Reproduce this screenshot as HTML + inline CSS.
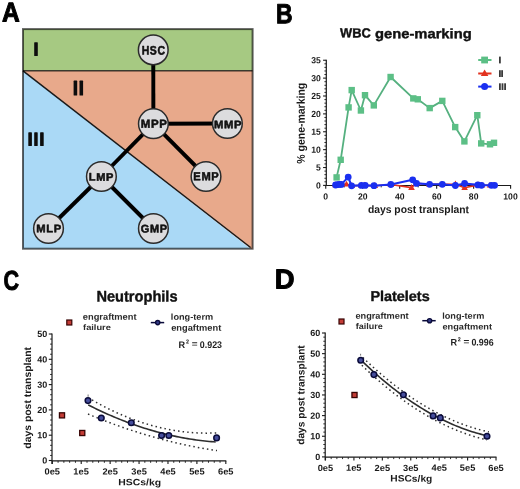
<!DOCTYPE html>
<html><head><meta charset="utf-8"><style>
html,body{margin:0;padding:0;background:#fff;}
svg{display:block;font-family:"Liberation Sans", sans-serif;font-kerning:none;filter:blur(0.4px);}
</style></head><body>
<svg width="520" height="489" viewBox="0 0 520 489" text-rendering="geometricPrecision">
<rect width="520" height="489" fill="#fff"/>
<rect x="23" y="29.1" width="229.6" height="41.550000000000004" fill="#a6c982"/>
<polygon points="23,70.65 252.6,70.65 252.6,248.7 250.6,248.7" fill="#e8a98b"/>
<polygon points="23,70.65 250.6,248.7 23,248.7" fill="#aad9f6"/>
<line x1="23" y1="70.95" x2="250.6" y2="247.5" stroke="#1a1a1a" stroke-width="1.5"/>
<line x1="23" y1="70.65" x2="252.6" y2="70.65" stroke="#000" stroke-opacity="0.72" stroke-width="1.5"/>
<rect x="23" y="29.1" width="229.60" height="219.60" fill="none" stroke="#000" stroke-opacity="0.62" stroke-width="2"/>
<line x1="153.25" y1="49.9" x2="153.4" y2="123.7" stroke="#000" stroke-width="3.9"/>
<line x1="153.4" y1="123.7" x2="227.4" y2="123.5" stroke="#000" stroke-width="3.9"/>
<line x1="153.4" y1="123.7" x2="101.4" y2="176.5" stroke="#000" stroke-width="3.9"/>
<line x1="153.4" y1="123.7" x2="206" y2="176.5" stroke="#000" stroke-width="3.9"/>
<line x1="101.4" y1="176.5" x2="48.5" y2="228.5" stroke="#000" stroke-width="3.9"/>
<line x1="101.4" y1="176.5" x2="153.4" y2="228.5" stroke="#000" stroke-width="3.9"/>
<circle cx="153.25" cy="49.9" r="14.85" fill="#dcdcde" stroke="#2b2b2b" stroke-width="1.5"/>
<text transform="translate(141.67,54.41) rotate(0.05) scale(0.8582,1)" font-size="12.217" font-weight="bold" fill="#111"  stroke="#111" stroke-width="0.55" stroke-linejoin="round" letter-spacing="0.7">HSC</text>
<circle cx="153.4" cy="123.7" r="14.85" fill="#dcdcde" stroke="#2b2b2b" stroke-width="1.5"/>
<text transform="translate(140.71,127.82) rotate(0.05) scale(0.9835,1)" font-size="11.701" font-weight="bold" fill="#111"  stroke="#111" stroke-width="0.55" stroke-linejoin="round" letter-spacing="0.7">MPP</text>
<circle cx="227.4" cy="123.5" r="14.85" fill="#dcdcde" stroke="#2b2b2b" stroke-width="1.5"/>
<text transform="translate(213.92,128.22) rotate(0.05) scale(1.0254,1)" font-size="10.974" font-weight="bold" fill="#111"  stroke="#111" stroke-width="0.55" stroke-linejoin="round" letter-spacing="0.7">MMP</text>
<circle cx="101.4" cy="176.5" r="14.85" fill="#dcdcde" stroke="#2b2b2b" stroke-width="1.5"/>
<text transform="translate(88.74,180.62) rotate(0.05) scale(1.0040,1)" font-size="10.974" font-weight="bold" fill="#111"  stroke="#111" stroke-width="0.55" stroke-linejoin="round" letter-spacing="0.7">LMP</text>
<circle cx="206" cy="176.5" r="14.85" fill="#dcdcde" stroke="#2b2b2b" stroke-width="1.5"/>
<text transform="translate(193.33,180.22) rotate(0.05) scale(0.9635,1)" font-size="11.555" font-weight="bold" fill="#111"  stroke="#111" stroke-width="0.55" stroke-linejoin="round" letter-spacing="0.7">EMP</text>
<circle cx="48.5" cy="228.5" r="14.85" fill="#dcdcde" stroke="#2b2b2b" stroke-width="1.5"/>
<text transform="translate(36.13,232.22) rotate(0.05) scale(1.0211,1)" font-size="10.974" font-weight="bold" fill="#111"  stroke="#111" stroke-width="0.55" stroke-linejoin="round" letter-spacing="0.7">MLP</text>
<circle cx="153.4" cy="228.5" r="14.85" fill="#dcdcde" stroke="#2b2b2b" stroke-width="1.5"/>
<text transform="translate(140.82,232.52) rotate(0.05) scale(0.9777,1)" font-size="11.229" font-weight="bold" fill="#111"  stroke="#111" stroke-width="0.55" stroke-linejoin="round" letter-spacing="0.7">GMP</text>
<rect x="34.2" y="42.2" width="3.60" height="13.80" rx="0.6" fill="#0d0d0d"/>
<rect x="73.6" y="80.6" width="3.60" height="15.00" rx="0.6" fill="#0d0d0d"/>
<rect x="79.5" y="80.6" width="3.60" height="15.00" rx="0.6" fill="#0d0d0d"/>
<rect x="28.3" y="132.3" width="3.60" height="13.80" rx="0.6" fill="#0d0d0d"/>
<rect x="34.2" y="132.3" width="3.50" height="13.80" rx="0.6" fill="#0d0d0d"/>
<rect x="40.1" y="132.3" width="3.60" height="13.80" rx="0.6" fill="#0d0d0d"/>
<text transform="translate(1.89,21.50) rotate(0.05) scale(0.9048,1)" font-size="27.181" font-weight="bold" fill="#000"  stroke="#000" stroke-width="1.0" stroke-linejoin="round">A</text>
<text transform="translate(275.96,23.30) rotate(0.05) scale(0.8312,1)" font-size="27.617" font-weight="bold" fill="#000"  stroke="#000" stroke-width="1.0" stroke-linejoin="round">B</text>
<text transform="translate(3.62,289.73) rotate(0.05) scale(0.7911,1)" font-size="27.260" font-weight="bold" fill="#000"  stroke="#000" stroke-width="1.0" stroke-linejoin="round">C</text>
<text transform="translate(274.77,288.50) rotate(0.05) scale(0.9972,1)" font-size="27.471" font-weight="bold" fill="#000"  stroke="#000" stroke-width="1.0" stroke-linejoin="round">D</text>
<line x1="326.3" y1="59.74" x2="326.3" y2="186.1" stroke="#1a1a1a" stroke-width="1.2"/>
<line x1="323.10" y1="185.40" x2="326.3" y2="185.40" stroke="#1a1a1a" stroke-width="1.1"/>
<text transform="translate(316.05,188.46) rotate(0.05) scale(0.9700,1)" font-size="8.900" font-weight="bold" fill="#1a1a1a" >0</text>
<line x1="324.40" y1="181.82" x2="326.3" y2="181.82" stroke="#1a1a1a" stroke-width="0.9"/>
<line x1="324.40" y1="178.25" x2="326.3" y2="178.25" stroke="#1a1a1a" stroke-width="0.9"/>
<line x1="324.40" y1="174.67" x2="326.3" y2="174.67" stroke="#1a1a1a" stroke-width="0.9"/>
<line x1="324.40" y1="171.10" x2="326.3" y2="171.10" stroke="#1a1a1a" stroke-width="0.9"/>
<line x1="323.10" y1="167.52" x2="326.3" y2="167.52" stroke="#1a1a1a" stroke-width="1.1"/>
<text transform="translate(315.94,170.49) rotate(0.05) scale(0.9700,1)" font-size="8.900" font-weight="bold" fill="#1a1a1a" >5</text>
<line x1="324.40" y1="163.94" x2="326.3" y2="163.94" stroke="#1a1a1a" stroke-width="0.9"/>
<line x1="324.40" y1="160.37" x2="326.3" y2="160.37" stroke="#1a1a1a" stroke-width="0.9"/>
<line x1="324.40" y1="156.79" x2="326.3" y2="156.79" stroke="#1a1a1a" stroke-width="0.9"/>
<line x1="324.40" y1="153.22" x2="326.3" y2="153.22" stroke="#1a1a1a" stroke-width="0.9"/>
<line x1="323.10" y1="149.64" x2="326.3" y2="149.64" stroke="#1a1a1a" stroke-width="1.1"/>
<text transform="translate(311.25,152.70) rotate(0.05) scale(0.9700,1)" font-size="8.900" font-weight="bold" fill="#1a1a1a" >10</text>
<line x1="324.40" y1="146.06" x2="326.3" y2="146.06" stroke="#1a1a1a" stroke-width="0.9"/>
<line x1="324.40" y1="142.49" x2="326.3" y2="142.49" stroke="#1a1a1a" stroke-width="0.9"/>
<line x1="324.40" y1="138.91" x2="326.3" y2="138.91" stroke="#1a1a1a" stroke-width="0.9"/>
<line x1="324.40" y1="135.34" x2="326.3" y2="135.34" stroke="#1a1a1a" stroke-width="0.9"/>
<line x1="323.10" y1="131.76" x2="326.3" y2="131.76" stroke="#1a1a1a" stroke-width="1.1"/>
<text transform="translate(311.14,134.73) rotate(0.05) scale(0.9700,1)" font-size="8.900" font-weight="bold" fill="#1a1a1a" >15</text>
<line x1="324.40" y1="128.18" x2="326.3" y2="128.18" stroke="#1a1a1a" stroke-width="0.9"/>
<line x1="324.40" y1="124.61" x2="326.3" y2="124.61" stroke="#1a1a1a" stroke-width="0.9"/>
<line x1="324.40" y1="121.03" x2="326.3" y2="121.03" stroke="#1a1a1a" stroke-width="0.9"/>
<line x1="324.40" y1="117.46" x2="326.3" y2="117.46" stroke="#1a1a1a" stroke-width="0.9"/>
<line x1="323.10" y1="113.88" x2="326.3" y2="113.88" stroke="#1a1a1a" stroke-width="1.1"/>
<text transform="translate(311.25,116.94) rotate(0.05) scale(0.9700,1)" font-size="8.900" font-weight="bold" fill="#1a1a1a" >20</text>
<line x1="324.40" y1="110.30" x2="326.3" y2="110.30" stroke="#1a1a1a" stroke-width="0.9"/>
<line x1="324.40" y1="106.73" x2="326.3" y2="106.73" stroke="#1a1a1a" stroke-width="0.9"/>
<line x1="324.40" y1="103.15" x2="326.3" y2="103.15" stroke="#1a1a1a" stroke-width="0.9"/>
<line x1="324.40" y1="99.58" x2="326.3" y2="99.58" stroke="#1a1a1a" stroke-width="0.9"/>
<line x1="323.10" y1="96.00" x2="326.3" y2="96.00" stroke="#1a1a1a" stroke-width="1.1"/>
<text transform="translate(311.14,99.06) rotate(0.05) scale(0.9700,1)" font-size="8.900" font-weight="bold" fill="#1a1a1a" >25</text>
<line x1="324.40" y1="92.42" x2="326.3" y2="92.42" stroke="#1a1a1a" stroke-width="0.9"/>
<line x1="324.40" y1="88.85" x2="326.3" y2="88.85" stroke="#1a1a1a" stroke-width="0.9"/>
<line x1="324.40" y1="85.27" x2="326.3" y2="85.27" stroke="#1a1a1a" stroke-width="0.9"/>
<line x1="324.40" y1="81.70" x2="326.3" y2="81.70" stroke="#1a1a1a" stroke-width="0.9"/>
<line x1="323.10" y1="78.12" x2="326.3" y2="78.12" stroke="#1a1a1a" stroke-width="1.1"/>
<text transform="translate(311.25,81.18) rotate(0.05) scale(0.9700,1)" font-size="8.900" font-weight="bold" fill="#1a1a1a" >30</text>
<line x1="324.40" y1="74.54" x2="326.3" y2="74.54" stroke="#1a1a1a" stroke-width="0.9"/>
<line x1="324.40" y1="70.97" x2="326.3" y2="70.97" stroke="#1a1a1a" stroke-width="0.9"/>
<line x1="324.40" y1="67.39" x2="326.3" y2="67.39" stroke="#1a1a1a" stroke-width="0.9"/>
<line x1="324.40" y1="63.82" x2="326.3" y2="63.82" stroke="#1a1a1a" stroke-width="0.9"/>
<line x1="323.10" y1="60.24" x2="326.3" y2="60.24" stroke="#1a1a1a" stroke-width="1.1"/>
<text transform="translate(311.14,63.30) rotate(0.05) scale(0.9700,1)" font-size="8.900" font-weight="bold" fill="#1a1a1a" >35</text>
<line x1="326.3" y1="185.5" x2="511.10" y2="185.5" stroke="#1a1a1a" stroke-width="1.2"/>
<line x1="325.75" y1="185.5" x2="325.75" y2="188.7" stroke="#1a1a1a" stroke-width="1.1"/>
<text transform="translate(323.36,199.46) rotate(0.05) scale(0.9700,1)" font-size="8.900" font-weight="bold" fill="#1a1a1a" >0</text>
<line x1="344.24" y1="185.5" x2="344.24" y2="187.4" stroke="#1a1a1a" stroke-width="0.9"/>
<line x1="362.72" y1="185.5" x2="362.72" y2="188.7" stroke="#1a1a1a" stroke-width="1.1"/>
<text transform="translate(357.95,199.46) rotate(0.05) scale(0.9700,1)" font-size="8.900" font-weight="bold" fill="#1a1a1a" >20</text>
<line x1="381.20" y1="185.5" x2="381.20" y2="187.4" stroke="#1a1a1a" stroke-width="0.9"/>
<line x1="399.69" y1="185.5" x2="399.69" y2="188.7" stroke="#1a1a1a" stroke-width="1.1"/>
<text transform="translate(395.00,199.46) rotate(0.05) scale(0.9700,1)" font-size="8.900" font-weight="bold" fill="#1a1a1a" >40</text>
<line x1="418.18" y1="185.5" x2="418.18" y2="187.4" stroke="#1a1a1a" stroke-width="0.9"/>
<line x1="436.66" y1="185.5" x2="436.66" y2="188.7" stroke="#1a1a1a" stroke-width="1.1"/>
<text transform="translate(431.88,199.46) rotate(0.05) scale(0.9700,1)" font-size="8.900" font-weight="bold" fill="#1a1a1a" >60</text>
<line x1="455.14" y1="185.5" x2="455.14" y2="187.4" stroke="#1a1a1a" stroke-width="0.9"/>
<line x1="473.63" y1="185.5" x2="473.63" y2="188.7" stroke="#1a1a1a" stroke-width="1.1"/>
<text transform="translate(468.87,199.46) rotate(0.05) scale(0.9700,1)" font-size="8.900" font-weight="bold" fill="#1a1a1a" >80</text>
<line x1="492.12" y1="185.5" x2="492.12" y2="187.4" stroke="#1a1a1a" stroke-width="0.9"/>
<line x1="510.60" y1="185.5" x2="510.60" y2="188.7" stroke="#1a1a1a" stroke-width="1.1"/>
<text transform="translate(503.30,199.46) rotate(0.05) scale(0.9700,1)" font-size="8.900" font-weight="bold" fill="#1a1a1a" >100</text>
<text transform="translate(367.88,213.05) rotate(0.05) scale(0.9555,1)" font-size="10.835" font-weight="bold" fill="#1a1a1a" >days post transplant</text>
<text transform="translate(304.80,163.76) rotate(-89.95) scale(0.9284,1)" font-size="11.318" font-weight="bold" fill="#1a1a1a" >% gene-marking</text>
<text transform="translate(339.99,37.37) rotate(0.05) scale(0.9703,1)" font-size="13.277" font-weight="bold" fill="#111"  stroke="#111" stroke-width="0.4" stroke-linejoin="round">WBC</text>
<text transform="translate(374.99,38.23) rotate(0.05) scale(1.0885,1)" font-size="13.561" font-weight="bold" fill="#111"  stroke="#111" stroke-width="0.4" stroke-linejoin="round">gene-marking</text>
<polyline points="336.6,177.4 340.7,159.8 348.6,107.4 351.7,90.1 360.9,110.5 365.0,95.2 373.8,105.4 390.6,77.0 413.3,98.4 417.8,99.3 429.7,108.1 442.3,100.9 455.2,127.1 464.4,141.4 477.3,115.2 481.2,143.4 490.0,144.3 494.0,142.8" fill="none" stroke="#55b07f" stroke-width="1.8" stroke-linejoin="round"/>
<rect x="333.4" y="174.2" width="6.4" height="6.4" fill="#5cbf86"/>
<rect x="337.5" y="156.6" width="6.4" height="6.4" fill="#5cbf86"/>
<rect x="345.4" y="104.2" width="6.4" height="6.4" fill="#5cbf86"/>
<rect x="348.5" y="86.9" width="6.4" height="6.4" fill="#5cbf86"/>
<rect x="357.7" y="107.3" width="6.4" height="6.4" fill="#5cbf86"/>
<rect x="361.8" y="92.0" width="6.4" height="6.4" fill="#5cbf86"/>
<rect x="370.6" y="102.2" width="6.4" height="6.4" fill="#5cbf86"/>
<rect x="387.4" y="73.8" width="6.4" height="6.4" fill="#5cbf86"/>
<rect x="410.1" y="95.2" width="6.4" height="6.4" fill="#5cbf86"/>
<rect x="414.6" y="96.1" width="6.4" height="6.4" fill="#5cbf86"/>
<rect x="426.5" y="104.9" width="6.4" height="6.4" fill="#5cbf86"/>
<rect x="439.1" y="97.7" width="6.4" height="6.4" fill="#5cbf86"/>
<rect x="452.0" y="123.9" width="6.4" height="6.4" fill="#5cbf86"/>
<rect x="461.2" y="138.2" width="6.4" height="6.4" fill="#5cbf86"/>
<rect x="474.1" y="112.0" width="6.4" height="6.4" fill="#5cbf86"/>
<rect x="478.0" y="140.2" width="6.4" height="6.4" fill="#5cbf86"/>
<rect x="486.8" y="141.1" width="6.4" height="6.4" fill="#5cbf86"/>
<rect x="490.8" y="139.6" width="6.4" height="6.4" fill="#5cbf86"/>
<polyline points="335.5,185.0 338.0,184.6 341.0,184.4 346.5,184.3 351.8,185.8 361.3,185.4 364.6,185.4 374.8,185.7 390.8,184.5 411.5,187.6 416.3,183.4 429.2,184.3 441.9,184.3 455.4,184.2 464.6,187.8 478.0,184.9 482.0,185.3 490.0,185.3 494.0,185.3" fill="none" stroke="#e2321f" stroke-width="1.6" stroke-linejoin="round"/>
<polygon points="335.5,181.4 338.8,187.3 332.2,187.3" fill="#e2321f"/>
<polygon points="338.0,181.0 341.3,186.9 334.7,186.9" fill="#e2321f"/>
<polygon points="341.0,180.8 344.3,186.7 337.7,186.7" fill="#e2321f"/>
<polygon points="346.5,180.7 349.8,186.6 343.2,186.6" fill="#e2321f"/>
<polygon points="351.8,182.2 355.1,188.1 348.5,188.1" fill="#e2321f"/>
<polygon points="361.3,181.8 364.6,187.7 358.0,187.7" fill="#e2321f"/>
<polygon points="364.6,181.8 367.9,187.7 361.3,187.7" fill="#e2321f"/>
<polygon points="374.8,182.1 378.1,188.0 371.5,188.0" fill="#e2321f"/>
<polygon points="390.8,180.9 394.1,186.8 387.5,186.8" fill="#e2321f"/>
<polygon points="411.5,184.0 414.8,189.9 408.2,189.9" fill="#e2321f"/>
<polygon points="416.3,179.8 419.6,185.7 413.0,185.7" fill="#e2321f"/>
<polygon points="429.2,180.7 432.5,186.6 425.9,186.6" fill="#e2321f"/>
<polygon points="441.9,180.7 445.2,186.6 438.6,186.6" fill="#e2321f"/>
<polygon points="455.4,180.6 458.7,186.5 452.1,186.5" fill="#e2321f"/>
<polygon points="464.6,184.2 467.9,190.1 461.3,190.1" fill="#e2321f"/>
<polygon points="478.0,181.3 481.3,187.2 474.7,187.2" fill="#e2321f"/>
<polygon points="482.0,181.7 485.3,187.6 478.7,187.6" fill="#e2321f"/>
<polygon points="490.0,181.7 493.3,187.6 486.7,187.6" fill="#e2321f"/>
<polygon points="494.0,181.7 497.3,187.6 490.7,187.6" fill="#e2321f"/>
<polyline points="335.6,185.0 337.6,184.6 339.6,184.4 341.3,184.4 348.2,177.1 351.6,185.8 361.4,185.4 365.2,185.4 374.0,185.7 390.8,184.5 412.7,179.8 416.5,183.4 429.6,184.3 442.3,184.3 455.4,185.5 464.6,183.5 477.9,184.9 481.5,185.3 491.3,185.3 494.6,185.3" fill="none" stroke="#1a2ff0" stroke-width="2.1" stroke-linejoin="round"/>
<circle cx="335.6" cy="185.0" r="3.4" fill="#1a2ff0"/>
<circle cx="337.6" cy="184.6" r="3.4" fill="#1a2ff0"/>
<circle cx="339.6" cy="184.4" r="3.4" fill="#1a2ff0"/>
<circle cx="341.3" cy="184.4" r="3.4" fill="#1a2ff0"/>
<circle cx="348.2" cy="177.1" r="3.4" fill="#1a2ff0"/>
<circle cx="351.6" cy="185.8" r="3.4" fill="#1a2ff0"/>
<circle cx="361.4" cy="185.4" r="3.4" fill="#1a2ff0"/>
<circle cx="365.2" cy="185.4" r="3.4" fill="#1a2ff0"/>
<circle cx="374.0" cy="185.7" r="3.4" fill="#1a2ff0"/>
<circle cx="390.8" cy="184.5" r="3.4" fill="#1a2ff0"/>
<circle cx="412.7" cy="179.8" r="3.4" fill="#1a2ff0"/>
<circle cx="416.5" cy="183.4" r="3.4" fill="#1a2ff0"/>
<circle cx="429.6" cy="184.3" r="3.4" fill="#1a2ff0"/>
<circle cx="442.3" cy="184.3" r="3.4" fill="#1a2ff0"/>
<circle cx="455.4" cy="185.5" r="3.4" fill="#1a2ff0"/>
<circle cx="464.6" cy="183.5" r="3.4" fill="#1a2ff0"/>
<circle cx="477.9" cy="184.9" r="3.4" fill="#1a2ff0"/>
<circle cx="481.5" cy="185.3" r="3.4" fill="#1a2ff0"/>
<circle cx="491.3" cy="185.3" r="3.4" fill="#1a2ff0"/>
<circle cx="494.6" cy="185.3" r="3.4" fill="#1a2ff0"/>
<line x1="478.2" y1="60" x2="491.5" y2="60" stroke="#5cbf86" stroke-width="2"/>
<rect x="481.2" y="56.6" width="6.8" height="6.8" fill="#5cbf86"/>
<line x1="478.2" y1="73.5" x2="491.5" y2="73.5" stroke="#e2321f" stroke-width="2"/>
<polygon points="484.6,69.6 488.4,76 480.8,76" fill="#e2321f"/>
<line x1="478.2" y1="86.6" x2="491.5" y2="86.6" stroke="#1a2ff0" stroke-width="2"/>
<circle cx="484.6" cy="86.6" r="3.5" fill="#1a2ff0"/>
<rect x="499" y="56.6" width="1.80" height="6.80" fill="#3a3a3a"/>
<rect x="499" y="70.2" width="1.80" height="6.80" fill="#3a3a3a"/>
<rect x="501.2" y="70.2" width="1.80" height="6.80" fill="#3a3a3a"/>
<rect x="499" y="83.3" width="1.80" height="6.70" fill="#3a3a3a"/>
<rect x="501.6" y="83.3" width="1.80" height="6.70" fill="#3a3a3a"/>
<rect x="504.2" y="83.3" width="1.80" height="6.70" fill="#3a3a3a"/>
<line x1="52" y1="333.50" x2="52" y2="464.10" stroke="#1a1a1a" stroke-width="1.2"/>
<line x1="48.80" y1="460.50" x2="52" y2="460.50" stroke="#1a1a1a" stroke-width="1.1"/>
<text transform="translate(42.16,463.60) rotate(0.05) scale(1.0000,1)" font-size="9.000" font-weight="bold" fill="#1a1a1a" >0</text>
<line x1="50.10" y1="455.44" x2="52" y2="455.44" stroke="#1a1a1a" stroke-width="0.9"/>
<line x1="50.10" y1="450.38" x2="52" y2="450.38" stroke="#1a1a1a" stroke-width="0.9"/>
<line x1="50.10" y1="445.32" x2="52" y2="445.32" stroke="#1a1a1a" stroke-width="0.9"/>
<line x1="50.10" y1="440.26" x2="52" y2="440.26" stroke="#1a1a1a" stroke-width="0.9"/>
<line x1="48.80" y1="435.20" x2="52" y2="435.20" stroke="#1a1a1a" stroke-width="1.1"/>
<text transform="translate(37.16,438.30) rotate(0.05) scale(1.0000,1)" font-size="9.000" font-weight="bold" fill="#1a1a1a" >10</text>
<line x1="50.10" y1="430.14" x2="52" y2="430.14" stroke="#1a1a1a" stroke-width="0.9"/>
<line x1="50.10" y1="425.08" x2="52" y2="425.08" stroke="#1a1a1a" stroke-width="0.9"/>
<line x1="50.10" y1="420.02" x2="52" y2="420.02" stroke="#1a1a1a" stroke-width="0.9"/>
<line x1="50.10" y1="414.96" x2="52" y2="414.96" stroke="#1a1a1a" stroke-width="0.9"/>
<line x1="48.80" y1="409.90" x2="52" y2="409.90" stroke="#1a1a1a" stroke-width="1.1"/>
<text transform="translate(37.16,413.00) rotate(0.05) scale(1.0000,1)" font-size="9.000" font-weight="bold" fill="#1a1a1a" >20</text>
<line x1="50.10" y1="404.84" x2="52" y2="404.84" stroke="#1a1a1a" stroke-width="0.9"/>
<line x1="50.10" y1="399.78" x2="52" y2="399.78" stroke="#1a1a1a" stroke-width="0.9"/>
<line x1="50.10" y1="394.72" x2="52" y2="394.72" stroke="#1a1a1a" stroke-width="0.9"/>
<line x1="50.10" y1="389.66" x2="52" y2="389.66" stroke="#1a1a1a" stroke-width="0.9"/>
<line x1="48.80" y1="384.60" x2="52" y2="384.60" stroke="#1a1a1a" stroke-width="1.1"/>
<text transform="translate(37.16,387.70) rotate(0.05) scale(1.0000,1)" font-size="9.000" font-weight="bold" fill="#1a1a1a" >30</text>
<line x1="50.10" y1="379.54" x2="52" y2="379.54" stroke="#1a1a1a" stroke-width="0.9"/>
<line x1="50.10" y1="374.48" x2="52" y2="374.48" stroke="#1a1a1a" stroke-width="0.9"/>
<line x1="50.10" y1="369.42" x2="52" y2="369.42" stroke="#1a1a1a" stroke-width="0.9"/>
<line x1="50.10" y1="364.36" x2="52" y2="364.36" stroke="#1a1a1a" stroke-width="0.9"/>
<line x1="48.80" y1="359.30" x2="52" y2="359.30" stroke="#1a1a1a" stroke-width="1.1"/>
<text transform="translate(37.16,362.40) rotate(0.05) scale(1.0000,1)" font-size="9.000" font-weight="bold" fill="#1a1a1a" >40</text>
<line x1="50.10" y1="354.24" x2="52" y2="354.24" stroke="#1a1a1a" stroke-width="0.9"/>
<line x1="50.10" y1="349.18" x2="52" y2="349.18" stroke="#1a1a1a" stroke-width="0.9"/>
<line x1="50.10" y1="344.12" x2="52" y2="344.12" stroke="#1a1a1a" stroke-width="0.9"/>
<line x1="50.10" y1="339.06" x2="52" y2="339.06" stroke="#1a1a1a" stroke-width="0.9"/>
<line x1="48.80" y1="334.00" x2="52" y2="334.00" stroke="#1a1a1a" stroke-width="1.1"/>
<text transform="translate(37.16,337.10) rotate(0.05) scale(1.0000,1)" font-size="9.000" font-weight="bold" fill="#1a1a1a" >50</text>
<line x1="52" y1="460.9" x2="226.32" y2="460.9" stroke="#1a1a1a" stroke-width="1.2"/>
<line x1="52.30" y1="460.9" x2="52.30" y2="464.09999999999997" stroke="#1a1a1a" stroke-width="1.1"/>
<text transform="translate(44.51,474.60) rotate(0.05) scale(1.0300,1)" font-size="9.000" font-weight="bold" fill="#1a1a1a" >0e5</text>
<line x1="58.08" y1="460.9" x2="58.08" y2="462.79999999999995" stroke="#1a1a1a" stroke-width="0.9"/>
<line x1="63.87" y1="460.9" x2="63.87" y2="462.79999999999995" stroke="#1a1a1a" stroke-width="0.9"/>
<line x1="69.65" y1="460.9" x2="69.65" y2="462.79999999999995" stroke="#1a1a1a" stroke-width="0.9"/>
<line x1="75.44" y1="460.9" x2="75.44" y2="462.79999999999995" stroke="#1a1a1a" stroke-width="0.9"/>
<line x1="81.22" y1="460.9" x2="81.22" y2="464.09999999999997" stroke="#1a1a1a" stroke-width="1.1"/>
<text transform="translate(73.32,474.51) rotate(0.05) scale(1.0300,1)" font-size="9.000" font-weight="bold" fill="#1a1a1a" >1e5</text>
<line x1="87.00" y1="460.9" x2="87.00" y2="462.79999999999995" stroke="#1a1a1a" stroke-width="0.9"/>
<line x1="92.79" y1="460.9" x2="92.79" y2="462.79999999999995" stroke="#1a1a1a" stroke-width="0.9"/>
<line x1="98.57" y1="460.9" x2="98.57" y2="462.79999999999995" stroke="#1a1a1a" stroke-width="0.9"/>
<line x1="104.36" y1="460.9" x2="104.36" y2="462.79999999999995" stroke="#1a1a1a" stroke-width="0.9"/>
<line x1="110.14" y1="460.9" x2="110.14" y2="464.09999999999997" stroke="#1a1a1a" stroke-width="1.1"/>
<text transform="translate(102.38,474.60) rotate(0.05) scale(1.0300,1)" font-size="9.000" font-weight="bold" fill="#1a1a1a" >2e5</text>
<line x1="115.92" y1="460.9" x2="115.92" y2="462.79999999999995" stroke="#1a1a1a" stroke-width="0.9"/>
<line x1="121.71" y1="460.9" x2="121.71" y2="462.79999999999995" stroke="#1a1a1a" stroke-width="0.9"/>
<line x1="127.49" y1="460.9" x2="127.49" y2="462.79999999999995" stroke="#1a1a1a" stroke-width="0.9"/>
<line x1="133.28" y1="460.9" x2="133.28" y2="462.79999999999995" stroke="#1a1a1a" stroke-width="0.9"/>
<line x1="139.06" y1="460.9" x2="139.06" y2="464.09999999999997" stroke="#1a1a1a" stroke-width="1.1"/>
<text transform="translate(131.35,474.60) rotate(0.05) scale(1.0300,1)" font-size="9.000" font-weight="bold" fill="#1a1a1a" >3e5</text>
<line x1="144.84" y1="460.9" x2="144.84" y2="462.79999999999995" stroke="#1a1a1a" stroke-width="0.9"/>
<line x1="150.63" y1="460.9" x2="150.63" y2="462.79999999999995" stroke="#1a1a1a" stroke-width="0.9"/>
<line x1="156.41" y1="460.9" x2="156.41" y2="462.79999999999995" stroke="#1a1a1a" stroke-width="0.9"/>
<line x1="162.20" y1="460.9" x2="162.20" y2="462.79999999999995" stroke="#1a1a1a" stroke-width="0.9"/>
<line x1="167.98" y1="460.9" x2="167.98" y2="464.09999999999997" stroke="#1a1a1a" stroke-width="1.1"/>
<text transform="translate(160.31,474.51) rotate(0.05) scale(1.0300,1)" font-size="9.000" font-weight="bold" fill="#1a1a1a" >4e5</text>
<line x1="173.76" y1="460.9" x2="173.76" y2="462.79999999999995" stroke="#1a1a1a" stroke-width="0.9"/>
<line x1="179.55" y1="460.9" x2="179.55" y2="462.79999999999995" stroke="#1a1a1a" stroke-width="0.9"/>
<line x1="185.33" y1="460.9" x2="185.33" y2="462.79999999999995" stroke="#1a1a1a" stroke-width="0.9"/>
<line x1="191.12" y1="460.9" x2="191.12" y2="462.79999999999995" stroke="#1a1a1a" stroke-width="0.9"/>
<line x1="196.90" y1="460.9" x2="196.90" y2="464.09999999999997" stroke="#1a1a1a" stroke-width="1.1"/>
<text transform="translate(189.15,474.51) rotate(0.05) scale(1.0300,1)" font-size="9.000" font-weight="bold" fill="#1a1a1a" >5e5</text>
<line x1="202.68" y1="460.9" x2="202.68" y2="462.79999999999995" stroke="#1a1a1a" stroke-width="0.9"/>
<line x1="208.47" y1="460.9" x2="208.47" y2="462.79999999999995" stroke="#1a1a1a" stroke-width="0.9"/>
<line x1="214.25" y1="460.9" x2="214.25" y2="462.79999999999995" stroke="#1a1a1a" stroke-width="0.9"/>
<line x1="220.04" y1="460.9" x2="220.04" y2="462.79999999999995" stroke="#1a1a1a" stroke-width="0.9"/>
<line x1="225.82" y1="460.9" x2="225.82" y2="464.09999999999997" stroke="#1a1a1a" stroke-width="1.1"/>
<text transform="translate(218.05,474.60) rotate(0.05) scale(1.0300,1)" font-size="9.000" font-weight="bold" fill="#1a1a1a" >6e5</text>
<text transform="translate(118.30,485.35) rotate(0.05) scale(1.1359,1)" font-size="9.183" font-weight="bold" fill="#1a1a1a" >HSCs/kg</text>
<text transform="translate(31.01,448.73) rotate(-89.95) scale(1.0328,1)" font-size="10.084" font-weight="bold" fill="#1a1a1a" >days post transplant</text>
<text transform="translate(96.42,301.52) rotate(0.05) scale(0.9524,1)" font-size="15.341" font-weight="bold" fill="#111"  stroke="#111" stroke-width="0.4" stroke-linejoin="round">Neutrophils</text>
<path d="M88.20,404.89 L90.36,405.99 L92.52,407.07 L94.68,408.13 L96.84,409.18 L99.01,410.21 L101.17,411.22 L103.33,412.22 L105.49,413.20 L107.65,414.17 L109.81,415.12 L111.97,416.05 L114.13,416.97 L116.29,417.88 L118.45,418.76 L120.62,419.63 L122.78,420.49 L124.94,421.32 L127.10,422.15 L129.26,422.95 L131.42,423.74 L133.58,424.51 L135.74,425.27 L137.90,426.01 L140.06,426.74 L142.23,427.45 L144.39,428.14 L146.55,428.82 L148.71,429.48 L150.87,430.12 L153.03,430.75 L155.19,431.36 L157.35,431.96 L159.51,432.54 L161.67,433.11 L163.84,433.65 L166.00,434.19 L168.16,434.70 L170.32,435.20 L172.48,435.69 L174.64,436.15 L176.80,436.61 L178.96,437.04 L181.12,437.46 L183.28,437.87 L185.45,438.25 L187.61,438.62 L189.77,438.98 L191.93,439.32 L194.09,439.64 L196.25,439.95 L198.41,440.24 L200.57,440.51 L202.73,440.77 L204.89,441.02 L207.06,441.24 L209.22,441.45 L211.38,441.65 L213.54,441.82 L215.70,441.99" fill="none" stroke="#2e2e2e" stroke-width="1.6"/>
<path d="M92.00,399.97 L94.11,401.18 L96.22,402.36 L98.33,403.52 L100.44,404.66 L102.55,405.77 L104.66,406.86 L106.77,407.93 L108.88,408.98 L110.99,410.01 L113.10,411.01 L115.21,411.99 L117.32,412.95 L119.43,413.89 L121.54,414.80 L123.65,415.69 L125.76,416.56 L127.87,417.41 L129.98,418.24 L132.09,419.04 L134.20,419.82 L136.31,420.58 L138.42,421.32 L140.53,422.03 L142.64,422.72 L144.75,423.39 L146.86,424.04 L148.97,424.66 L151.08,425.27 L153.19,425.85 L155.31,426.41 L157.42,426.94 L159.53,427.46 L161.64,427.95 L163.75,428.42 L165.86,428.86 L167.97,429.29 L170.08,429.69 L172.19,430.07 L174.30,430.43 L176.41,430.76 L178.52,431.08 L180.63,431.37 L182.74,431.64 L184.85,431.88 L186.96,432.11 L189.07,432.31 L191.18,432.49 L193.29,432.65 L195.40,432.78 L197.51,432.90 L199.62,432.99 L201.73,433.06 L203.84,433.10 L205.95,433.13 L208.06,433.13 L210.17,433.11 L212.28,433.07 L214.39,433.00 L216.50,432.91" fill="none" stroke="#2e2e2e" stroke-width="1.5" stroke-dasharray="1.5,3.1"/>
<path d="M88.00,414.02 L90.19,414.93 L92.37,415.84 L94.56,416.73 L96.75,417.62 L98.93,418.49 L101.12,419.36 L103.31,420.21 L105.49,421.05 L107.68,421.89 L109.86,422.71 L112.05,423.52 L114.24,424.33 L116.42,425.12 L118.61,425.90 L120.80,426.67 L122.98,427.44 L125.17,428.19 L127.36,428.93 L129.54,429.66 L131.73,430.38 L133.92,431.09 L136.10,431.80 L138.29,432.49 L140.47,433.17 L142.66,433.84 L144.85,434.50 L147.03,435.15 L149.22,435.79 L151.41,436.42 L153.59,437.04 L155.78,437.65 L157.97,438.25 L160.15,438.84 L162.34,439.42 L164.53,439.99 L166.71,440.55 L168.90,441.10 L171.08,441.63 L173.27,442.16 L175.46,442.68 L177.64,443.19 L179.83,443.69 L182.02,444.17 L184.20,444.65 L186.39,445.12 L188.58,445.58 L190.76,446.02 L192.95,446.46 L195.14,446.89 L197.32,447.30 L199.51,447.71 L201.69,448.11 L203.88,448.49 L206.07,448.87 L208.25,449.23 L210.44,449.59 L212.63,449.94 L214.81,450.27 L217.00,450.60" fill="none" stroke="#2e2e2e" stroke-width="1.5" stroke-dasharray="1.5,3.1"/>
<rect x="59.45" y="412.80" width="5.1" height="5.1" fill="#c43c36" stroke="#380404" stroke-width="1.3"/>
<rect x="79.70" y="430.45" width="5.1" height="5.1" fill="#c43c36" stroke="#380404" stroke-width="1.3"/>
<line x1="88.1" y1="394.5" x2="88.1" y2="396.8" stroke="#666" stroke-width="0.9"/>
<circle cx="88.00" cy="400.60" r="2.8" fill="#454d9c" stroke="#0a0b3a" stroke-width="1.5"/>
<circle cx="101.30" cy="418.00" r="2.8" fill="#454d9c" stroke="#0a0b3a" stroke-width="1.5"/>
<circle cx="131.30" cy="422.70" r="2.8" fill="#454d9c" stroke="#0a0b3a" stroke-width="1.5"/>
<circle cx="161.60" cy="435.50" r="2.8" fill="#454d9c" stroke="#0a0b3a" stroke-width="1.5"/>
<circle cx="168.80" cy="435.50" r="2.8" fill="#454d9c" stroke="#0a0b3a" stroke-width="1.5"/>
<circle cx="216.60" cy="437.90" r="2.8" fill="#454d9c" stroke="#0a0b3a" stroke-width="1.5"/>
<rect x="66.80" y="320.00" width="5.0" height="5.0" fill="#c43c36" stroke="#380404" stroke-width="1.2"/>
<text transform="translate(82.84,319.70) rotate(0.05) scale(1.0376,1)" font-size="8.969" font-weight="bold" fill="#2a2a2a" >engraftment</text>
<text transform="translate(83.04,329.92) rotate(0.05) scale(1.1562,1)" font-size="8.034" font-weight="bold" fill="#2a2a2a" >failure</text>
<text transform="translate(170.86,319.67) rotate(0.05) scale(1.0635,1)" font-size="8.649" font-weight="bold" fill="#2a2a2a" >long-term</text>
<text transform="translate(171.14,330.70) rotate(0.05) scale(1.0381,1)" font-size="8.969" font-weight="bold" fill="#2a2a2a" >engaftment</text>
<line x1="150.8" y1="322.6" x2="164.2" y2="322.6" stroke="#0a0b3a" stroke-width="1.5"/>
<circle cx="157.7" cy="322.6" r="2.1" fill="#363d8c" stroke="#0a0b3a" stroke-width="1.4"/>
<text transform="translate(178.59,347.90) rotate(0.05) scale(0.9525,1)" font-size="9.593" font-weight="bold" fill="#222" >R</text>
<text transform="translate(185.91,343.60) rotate(0.05) scale(0.9427,1)" font-size="5.729" font-weight="bold" fill="#222" >2</text>
<text transform="translate(191.69,346.70) rotate(0.05) scale(1.1776,1)" font-size="8.467" font-weight="bold" fill="#222" >=</text>
<text transform="translate(199.85,347.89) rotate(0.05) scale(0.9244,1)" font-size="9.585" font-weight="bold" fill="#222" >0.923</text>
<line x1="325.2" y1="332.50" x2="325.2" y2="460.40" stroke="#1a1a1a" stroke-width="1.2"/>
<line x1="322.00" y1="456.90" x2="325.2" y2="456.90" stroke="#1a1a1a" stroke-width="1.1"/>
<text transform="translate(315.36,460.00) rotate(0.05) scale(1.0000,1)" font-size="9.000" font-weight="bold" fill="#1a1a1a" >0</text>
<line x1="323.30" y1="452.77" x2="325.2" y2="452.77" stroke="#1a1a1a" stroke-width="0.9"/>
<line x1="323.30" y1="448.64" x2="325.2" y2="448.64" stroke="#1a1a1a" stroke-width="0.9"/>
<line x1="323.30" y1="444.51" x2="325.2" y2="444.51" stroke="#1a1a1a" stroke-width="0.9"/>
<line x1="323.30" y1="440.38" x2="325.2" y2="440.38" stroke="#1a1a1a" stroke-width="0.9"/>
<line x1="322.00" y1="436.25" x2="325.2" y2="436.25" stroke="#1a1a1a" stroke-width="1.1"/>
<text transform="translate(310.36,439.35) rotate(0.05) scale(1.0000,1)" font-size="9.000" font-weight="bold" fill="#1a1a1a" >10</text>
<line x1="323.30" y1="432.12" x2="325.2" y2="432.12" stroke="#1a1a1a" stroke-width="0.9"/>
<line x1="323.30" y1="427.99" x2="325.2" y2="427.99" stroke="#1a1a1a" stroke-width="0.9"/>
<line x1="323.30" y1="423.86" x2="325.2" y2="423.86" stroke="#1a1a1a" stroke-width="0.9"/>
<line x1="323.30" y1="419.73" x2="325.2" y2="419.73" stroke="#1a1a1a" stroke-width="0.9"/>
<line x1="322.00" y1="415.60" x2="325.2" y2="415.60" stroke="#1a1a1a" stroke-width="1.1"/>
<text transform="translate(310.36,418.70) rotate(0.05) scale(1.0000,1)" font-size="9.000" font-weight="bold" fill="#1a1a1a" >20</text>
<line x1="323.30" y1="411.47" x2="325.2" y2="411.47" stroke="#1a1a1a" stroke-width="0.9"/>
<line x1="323.30" y1="407.34" x2="325.2" y2="407.34" stroke="#1a1a1a" stroke-width="0.9"/>
<line x1="323.30" y1="403.21" x2="325.2" y2="403.21" stroke="#1a1a1a" stroke-width="0.9"/>
<line x1="323.30" y1="399.08" x2="325.2" y2="399.08" stroke="#1a1a1a" stroke-width="0.9"/>
<line x1="322.00" y1="394.95" x2="325.2" y2="394.95" stroke="#1a1a1a" stroke-width="1.1"/>
<text transform="translate(310.36,398.05) rotate(0.05) scale(1.0000,1)" font-size="9.000" font-weight="bold" fill="#1a1a1a" >30</text>
<line x1="323.30" y1="390.82" x2="325.2" y2="390.82" stroke="#1a1a1a" stroke-width="0.9"/>
<line x1="323.30" y1="386.69" x2="325.2" y2="386.69" stroke="#1a1a1a" stroke-width="0.9"/>
<line x1="323.30" y1="382.56" x2="325.2" y2="382.56" stroke="#1a1a1a" stroke-width="0.9"/>
<line x1="323.30" y1="378.43" x2="325.2" y2="378.43" stroke="#1a1a1a" stroke-width="0.9"/>
<line x1="322.00" y1="374.30" x2="325.2" y2="374.30" stroke="#1a1a1a" stroke-width="1.1"/>
<text transform="translate(310.36,377.40) rotate(0.05) scale(1.0000,1)" font-size="9.000" font-weight="bold" fill="#1a1a1a" >40</text>
<line x1="323.30" y1="370.17" x2="325.2" y2="370.17" stroke="#1a1a1a" stroke-width="0.9"/>
<line x1="323.30" y1="366.04" x2="325.2" y2="366.04" stroke="#1a1a1a" stroke-width="0.9"/>
<line x1="323.30" y1="361.91" x2="325.2" y2="361.91" stroke="#1a1a1a" stroke-width="0.9"/>
<line x1="323.30" y1="357.78" x2="325.2" y2="357.78" stroke="#1a1a1a" stroke-width="0.9"/>
<line x1="322.00" y1="353.65" x2="325.2" y2="353.65" stroke="#1a1a1a" stroke-width="1.1"/>
<text transform="translate(310.36,356.75) rotate(0.05) scale(1.0000,1)" font-size="9.000" font-weight="bold" fill="#1a1a1a" >50</text>
<line x1="323.30" y1="349.52" x2="325.2" y2="349.52" stroke="#1a1a1a" stroke-width="0.9"/>
<line x1="323.30" y1="345.39" x2="325.2" y2="345.39" stroke="#1a1a1a" stroke-width="0.9"/>
<line x1="323.30" y1="341.26" x2="325.2" y2="341.26" stroke="#1a1a1a" stroke-width="0.9"/>
<line x1="323.30" y1="337.13" x2="325.2" y2="337.13" stroke="#1a1a1a" stroke-width="0.9"/>
<line x1="322.00" y1="333.00" x2="325.2" y2="333.00" stroke="#1a1a1a" stroke-width="1.1"/>
<text transform="translate(310.36,336.10) rotate(0.05) scale(1.0000,1)" font-size="9.000" font-weight="bold" fill="#1a1a1a" >60</text>
<line x1="325.2" y1="457.2" x2="496.52" y2="457.2" stroke="#1a1a1a" stroke-width="1.2"/>
<line x1="325.50" y1="457.2" x2="325.50" y2="460.4" stroke="#1a1a1a" stroke-width="1.1"/>
<text transform="translate(317.71,470.90) rotate(0.05) scale(1.0300,1)" font-size="9.000" font-weight="bold" fill="#1a1a1a" >0e5</text>
<line x1="331.18" y1="457.2" x2="331.18" y2="459.09999999999997" stroke="#1a1a1a" stroke-width="0.9"/>
<line x1="336.87" y1="457.2" x2="336.87" y2="459.09999999999997" stroke="#1a1a1a" stroke-width="0.9"/>
<line x1="342.55" y1="457.2" x2="342.55" y2="459.09999999999997" stroke="#1a1a1a" stroke-width="0.9"/>
<line x1="348.24" y1="457.2" x2="348.24" y2="459.09999999999997" stroke="#1a1a1a" stroke-width="0.9"/>
<line x1="353.92" y1="457.2" x2="353.92" y2="460.4" stroke="#1a1a1a" stroke-width="1.1"/>
<text transform="translate(346.02,470.81) rotate(0.05) scale(1.0300,1)" font-size="9.000" font-weight="bold" fill="#1a1a1a" >1e5</text>
<line x1="359.60" y1="457.2" x2="359.60" y2="459.09999999999997" stroke="#1a1a1a" stroke-width="0.9"/>
<line x1="365.29" y1="457.2" x2="365.29" y2="459.09999999999997" stroke="#1a1a1a" stroke-width="0.9"/>
<line x1="370.97" y1="457.2" x2="370.97" y2="459.09999999999997" stroke="#1a1a1a" stroke-width="0.9"/>
<line x1="376.66" y1="457.2" x2="376.66" y2="459.09999999999997" stroke="#1a1a1a" stroke-width="0.9"/>
<line x1="382.34" y1="457.2" x2="382.34" y2="460.4" stroke="#1a1a1a" stroke-width="1.1"/>
<text transform="translate(374.58,470.90) rotate(0.05) scale(1.0300,1)" font-size="9.000" font-weight="bold" fill="#1a1a1a" >2e5</text>
<line x1="388.02" y1="457.2" x2="388.02" y2="459.09999999999997" stroke="#1a1a1a" stroke-width="0.9"/>
<line x1="393.71" y1="457.2" x2="393.71" y2="459.09999999999997" stroke="#1a1a1a" stroke-width="0.9"/>
<line x1="399.39" y1="457.2" x2="399.39" y2="459.09999999999997" stroke="#1a1a1a" stroke-width="0.9"/>
<line x1="405.08" y1="457.2" x2="405.08" y2="459.09999999999997" stroke="#1a1a1a" stroke-width="0.9"/>
<line x1="410.76" y1="457.2" x2="410.76" y2="460.4" stroke="#1a1a1a" stroke-width="1.1"/>
<text transform="translate(403.05,470.90) rotate(0.05) scale(1.0300,1)" font-size="9.000" font-weight="bold" fill="#1a1a1a" >3e5</text>
<line x1="416.44" y1="457.2" x2="416.44" y2="459.09999999999997" stroke="#1a1a1a" stroke-width="0.9"/>
<line x1="422.13" y1="457.2" x2="422.13" y2="459.09999999999997" stroke="#1a1a1a" stroke-width="0.9"/>
<line x1="427.81" y1="457.2" x2="427.81" y2="459.09999999999997" stroke="#1a1a1a" stroke-width="0.9"/>
<line x1="433.50" y1="457.2" x2="433.50" y2="459.09999999999997" stroke="#1a1a1a" stroke-width="0.9"/>
<line x1="439.18" y1="457.2" x2="439.18" y2="460.4" stroke="#1a1a1a" stroke-width="1.1"/>
<text transform="translate(431.51,470.81) rotate(0.05) scale(1.0300,1)" font-size="9.000" font-weight="bold" fill="#1a1a1a" >4e5</text>
<line x1="444.86" y1="457.2" x2="444.86" y2="459.09999999999997" stroke="#1a1a1a" stroke-width="0.9"/>
<line x1="450.55" y1="457.2" x2="450.55" y2="459.09999999999997" stroke="#1a1a1a" stroke-width="0.9"/>
<line x1="456.23" y1="457.2" x2="456.23" y2="459.09999999999997" stroke="#1a1a1a" stroke-width="0.9"/>
<line x1="461.92" y1="457.2" x2="461.92" y2="459.09999999999997" stroke="#1a1a1a" stroke-width="0.9"/>
<line x1="467.60" y1="457.2" x2="467.60" y2="460.4" stroke="#1a1a1a" stroke-width="1.1"/>
<text transform="translate(459.85,470.81) rotate(0.05) scale(1.0300,1)" font-size="9.000" font-weight="bold" fill="#1a1a1a" >5e5</text>
<line x1="473.28" y1="457.2" x2="473.28" y2="459.09999999999997" stroke="#1a1a1a" stroke-width="0.9"/>
<line x1="478.97" y1="457.2" x2="478.97" y2="459.09999999999997" stroke="#1a1a1a" stroke-width="0.9"/>
<line x1="484.65" y1="457.2" x2="484.65" y2="459.09999999999997" stroke="#1a1a1a" stroke-width="0.9"/>
<line x1="490.34" y1="457.2" x2="490.34" y2="459.09999999999997" stroke="#1a1a1a" stroke-width="0.9"/>
<line x1="496.02" y1="457.2" x2="496.02" y2="460.4" stroke="#1a1a1a" stroke-width="1.1"/>
<text transform="translate(488.25,470.90) rotate(0.05) scale(1.0300,1)" font-size="9.000" font-weight="bold" fill="#1a1a1a" >6e5</text>
<text transform="translate(390.32,481.61) rotate(0.05) scale(1.0887,1)" font-size="9.396" font-weight="bold" fill="#1a1a1a" >HSCs/kg</text>
<text transform="translate(304.36,444.82) rotate(-89.95) scale(0.9903,1)" font-size="10.299" font-weight="bold" fill="#1a1a1a" >days post transplant</text>
<text transform="translate(370.44,300.96) rotate(0.05) scale(1.0172,1)" font-size="14.162" font-weight="bold" fill="#111"  stroke="#111" stroke-width="0.4" stroke-linejoin="round">Platelets</text>
<path d="M360.70,359.80 L362.84,361.88 L364.98,363.92 L367.12,365.94 L369.26,367.94 L371.40,369.90 L373.54,371.84 L375.68,373.75 L377.83,375.64 L379.97,377.50 L382.11,379.33 L384.25,381.13 L386.39,382.90 L388.53,384.65 L390.67,386.37 L392.81,388.07 L394.95,389.74 L397.09,391.38 L399.23,392.99 L401.37,394.57 L403.51,396.13 L405.65,397.66 L407.79,399.17 L409.94,400.64 L412.08,402.09 L414.22,403.51 L416.36,404.91 L418.50,406.28 L420.64,407.62 L422.78,408.93 L424.92,410.22 L427.06,411.48 L429.20,412.71 L431.34,413.91 L433.48,415.09 L435.62,416.24 L437.76,417.36 L439.91,418.46 L442.05,419.53 L444.19,420.57 L446.33,421.58 L448.47,422.57 L450.61,423.53 L452.75,424.46 L454.89,425.37 L457.03,426.25 L459.17,427.10 L461.31,427.92 L463.45,428.72 L465.59,429.49 L467.73,430.23 L469.87,430.95 L472.02,431.64 L474.16,432.30 L476.30,432.93 L478.44,433.54 L480.58,434.12 L482.72,434.67 L484.86,435.19 L487.00,435.69" fill="none" stroke="#2e2e2e" stroke-width="1.6"/>
<path d="M362.86,357.58 L364.47,359.13 L366.08,360.66 L367.69,362.17 L369.30,363.67 L370.91,365.15 L372.52,366.62 L374.12,368.07 L375.73,369.50 L377.34,370.92 L378.95,372.33 L380.55,373.72 L382.16,375.09 L383.77,376.45 L385.37,377.79 L386.98,379.12 L388.58,380.43 L390.19,381.73 L391.79,383.01 L393.39,384.27 L395.00,385.52 L396.60,386.76 L398.21,387.97 L399.81,389.18 L401.41,390.36 L403.01,391.54 L404.61,392.69 L406.22,393.83 L407.82,394.96 L409.42,396.07 L411.02,397.16 L412.62,398.24 L414.22,399.30 L415.82,400.35 L417.41,401.38 L419.01,402.40 L420.61,403.40 L422.21,404.39 L423.80,405.36 L425.40,406.31 L427.00,407.25 L428.59,408.18 L430.19,409.09 L431.78,409.98 L433.38,410.86 L434.97,411.72 L436.57,412.56 L438.16,413.40 L439.75,414.21 L441.34,415.01 L442.93,415.80 L444.53,416.57 L446.12,417.32 L447.71,418.06 L449.30,418.78 L450.89,419.49 L452.47,420.19 L454.06,420.86 L455.65,421.53 L457.24,422.17 L458.82,422.80 L460.41,423.42 L462.00,424.02 L463.58,424.61 L465.17,425.18 L466.75,425.73 L468.34,426.27 L469.92,426.80 L471.50,427.30 L473.08,427.80 L474.67,428.28 L476.25,428.74 L477.83,429.19 L479.41,429.62 L480.99,430.04 L482.57,430.44 L484.15,430.83 L485.73,431.20 L487.31,431.56 L488.88,431.90" fill="none" stroke="#2e2e2e" stroke-width="1.5" stroke-dasharray="1.5,3.1"/>
<path d="M358.54,362.02 L360.15,363.60 L361.76,365.17 L363.38,366.73 L364.99,368.27 L366.61,369.79 L368.22,371.30 L369.83,372.79 L371.45,374.27 L373.07,375.73 L374.68,377.17 L376.30,378.61 L377.91,380.02 L379.53,381.42 L381.15,382.81 L382.77,384.18 L384.38,385.53 L386.00,386.87 L387.62,388.20 L389.24,389.51 L390.86,390.80 L392.48,392.08 L394.10,393.34 L395.72,394.59 L397.34,395.82 L398.96,397.04 L400.58,398.24 L402.20,399.43 L403.82,400.60 L405.44,401.76 L407.07,402.90 L408.69,404.02 L410.31,405.13 L411.94,406.23 L413.56,407.31 L415.19,408.37 L416.81,409.42 L418.44,410.45 L420.06,411.47 L421.69,412.48 L423.31,413.46 L424.94,414.44 L426.57,415.39 L428.20,416.33 L429.82,417.26 L431.45,418.17 L433.08,419.06 L434.71,419.94 L436.34,420.81 L437.97,421.66 L439.60,422.49 L441.24,423.31 L442.87,424.11 L444.50,424.90 L446.13,425.67 L447.77,426.43 L449.40,427.17 L451.04,427.89 L452.67,428.60 L454.31,429.30 L455.94,429.98 L457.58,430.64 L459.22,431.29 L460.85,431.92 L462.49,432.54 L464.13,433.14 L465.77,433.73 L467.41,434.30 L469.05,434.85 L470.69,435.39 L472.33,435.91 L473.97,436.42 L475.61,436.91 L477.25,437.39 L478.90,437.85 L480.54,438.30 L482.18,438.73 L483.83,439.14 L485.47,439.54 L487.12,439.92" fill="none" stroke="#2e2e2e" stroke-width="1.5" stroke-dasharray="1.5,3.1"/>
<rect x="351.95" y="392.45" width="5.1" height="5.1" fill="#c43c36" stroke="#380404" stroke-width="1.3"/>
<line x1="360.6" y1="353.8" x2="360.6" y2="355.6" stroke="#666" stroke-width="0.9"/>
<circle cx="360.70" cy="360.20" r="2.8" fill="#454d9c" stroke="#0a0b3a" stroke-width="1.5"/>
<circle cx="373.90" cy="374.60" r="2.8" fill="#454d9c" stroke="#0a0b3a" stroke-width="1.5"/>
<circle cx="403.40" cy="394.80" r="2.8" fill="#454d9c" stroke="#0a0b3a" stroke-width="1.5"/>
<circle cx="433.10" cy="415.90" r="2.8" fill="#454d9c" stroke="#0a0b3a" stroke-width="1.5"/>
<circle cx="440.30" cy="417.90" r="2.8" fill="#454d9c" stroke="#0a0b3a" stroke-width="1.5"/>
<circle cx="487.00" cy="436.20" r="2.8" fill="#454d9c" stroke="#0a0b3a" stroke-width="1.5"/>
<rect x="339.00" y="319.00" width="5.0" height="5.0" fill="#c43c36" stroke="#380404" stroke-width="1.2"/>
<text transform="translate(355.44,318.72) rotate(0.05) scale(1.0383,1)" font-size="8.863" font-weight="bold" fill="#2a2a2a" >engraftment</text>
<text transform="translate(355.65,328.92) rotate(0.05) scale(1.0857,1)" font-size="8.306" font-weight="bold" fill="#2a2a2a" >failure</text>
<text transform="translate(442.16,318.64) rotate(0.05) scale(1.0455,1)" font-size="8.756" font-weight="bold" fill="#2a2a2a" >long-term</text>
<text transform="translate(442.44,329.49) rotate(0.05) scale(1.0790,1)" font-size="8.542" font-weight="bold" fill="#2a2a2a" >engaftment</text>
<line x1="422.3" y1="320.7" x2="435.7" y2="320.7" stroke="#0a0b3a" stroke-width="1.5"/>
<circle cx="429.6" cy="320.7" r="2.1" fill="#363d8c" stroke="#0a0b3a" stroke-width="1.4"/>
<text transform="translate(450.39,345.60) rotate(0.05) scale(0.9525,1)" font-size="9.593" font-weight="bold" fill="#222" >R</text>
<text transform="translate(457.71,341.30) rotate(0.05) scale(0.9427,1)" font-size="5.729" font-weight="bold" fill="#222" >2</text>
<text transform="translate(463.49,344.40) rotate(0.05) scale(1.1776,1)" font-size="8.467" font-weight="bold" fill="#222" >=</text>
<text transform="translate(471.45,345.61) rotate(0.05) scale(0.9224,1)" font-size="9.604" font-weight="bold" fill="#222" >0.996</text>
</svg>
</body></html>
